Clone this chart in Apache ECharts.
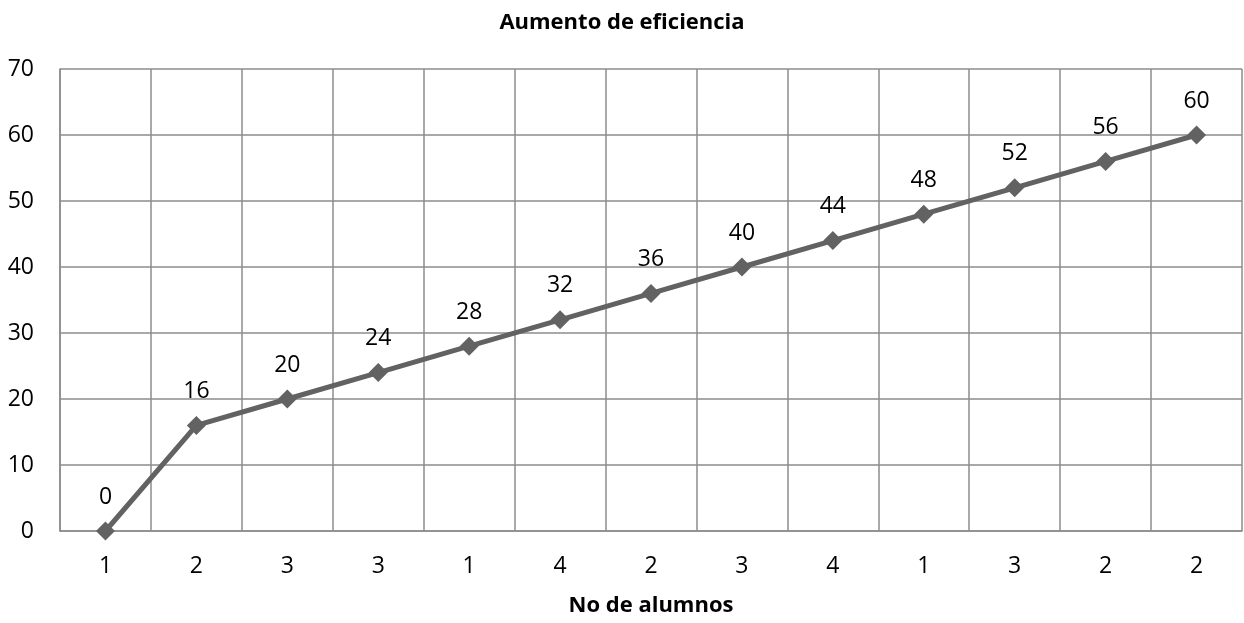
<!DOCTYPE html>
<html><head><meta charset="utf-8">
<script src="https://cdn.jsdelivr.net/npm/echarts@6/dist/echarts.min.js"></script>
<style>html,body{margin:0;padding:0;background:#fff}#c{width:1244px;height:623px}</style>
</head><body><div id="c"></div>
<script>
const categories = ['1','2','3','3','1','4','2','3','4','1','3','2','2'];
const values = [0,16,20,24,28,32,36,40,44,48,52,56,60];
const titleText = 'Aumento de eficiencia';
const xName = 'No de alumnos';
const FONT = '"Open Sans", sans-serif';
const chart = echarts.init(document.getElementById('c'));
chart.setOption({
  animation:false,
  backgroundColor:'#fff',
  title:{text:titleText,left:'center',top:7,textStyle:{fontFamily:FONT,fontSize:22,fontWeight:'bold',color:'#000'}},
  grid:{left:60,right:2,top:69,bottom:92,containLabel:false},
  xAxis:{type:'category',data:categories,boundaryGap:true,
    name:xName,nameLocation:'middle',nameGap:64,
    nameTextStyle:{fontFamily:FONT,fontSize:22,fontWeight:'bold',color:'#000'},
    axisLine:{lineStyle:{color:'#8c8c8c',width:1.5}},
    axisTick:{show:false},
    axisLabel:{interval:0,margin:24,fontFamily:FONT,fontSize:23,color:'#000'},
    splitLine:{show:true,interval:0,lineStyle:{color:'#8c8c8c',width:1.5}}},
  yAxis:{type:'value',min:0,max:70,interval:10,
    axisLine:{show:true,lineStyle:{color:'#8c8c8c',width:1.5}},
    axisTick:{show:false},
    axisLabel:{margin:26,fontFamily:FONT,fontSize:23,color:'#000'},
    splitLine:{lineStyle:{color:'#8c8c8c',width:1.5}}},
  series:[{type:'line',data:values,symbol:'diamond',symbolSize:19,
    lineStyle:{color:'#626262',width:5},itemStyle:{color:'#626262'},
    label:{show:true,position:'top',distance:13,fontFamily:FONT,fontSize:23,color:'#000'}}]
});
</script></body></html>
